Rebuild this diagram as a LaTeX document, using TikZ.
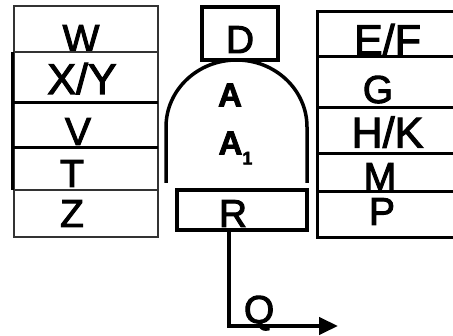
\documentclass[tikz,border=0pt]{standalone}
\usepackage{fontspec}
\setmainfont{Liberation Sans}[FakeBold=2.5]
\usetikzlibrary{arrows.meta,positioning}

\begin{document}
\begin{tikzpicture}[
    x=1pt, y=-1pt,
    font=\fontsize{39}{40}\selectfont,
    >={Triangle[length=19pt,width=17pt]},
    cell/.style={draw=black!80, line width=1.2pt, inner sep=0pt, outer sep=0pt, text height=36pt, text depth=0pt},
    lcell/.style={cell, minimum width=144pt},
    rcell/.style={cell, draw=black, line width=3pt, minimum width=141pt},
    block/.style={cell, draw=black, line width=3.5pt},
    wide/.style={font=\fontsize{43}{45}\selectfont},
    heavy/.style={line width=3.5pt},
    flow/.style={->, line width=4.5pt}
]
\clip (0,0) rectangle (453,336);

% left stack (kerns pull the letters a little left of centre)
\node[lcell, minimum height=46pt, text height=46pt] (w) at (86,29) {W\kern10pt};
\node[lcell, wide, minimum height=51pt, text height=33pt, below=0pt of w] (xy) {X/Y\kern8pt};
\node[lcell, minimum height=45pt, text height=39pt, below=0pt of xy] (v) {V\kern16pt};
\node[lcell, minimum height=42pt, below=0pt of v] (t) {T\kern28pt};
\node[lcell, minimum height=47pt, text height=27pt, below=0pt of t] (z) {Z\kern28pt};
\draw[heavy] ([xshift=-1.5pt]xy.north west) -- ([xshift=-1.5pt]t.south west);
\draw[line width=3pt] (xy.south west) -- (xy.south east);
\draw[line width=3pt] (v.south west) -- (v.south east);

% right stack
\node[rcell, wide, minimum height=45pt, text height=41pt] (ef) at (387.5,34.5) {E/F};
\node[rcell, minimum height=51pt, text height=41pt, below=0pt of ef] (g) {G\kern19pt};
\node[rcell, wide, minimum height=46pt, text height=33pt, below=0pt of g] (hk) {H/K};
\node[rcell, minimum height=38pt, text height=34pt, below=0pt of hk] (m) {M\kern15pt};
\node[rcell, minimum height=46pt, text height=20pt, below=0pt of m] (p) {P\kern11pt};

% centre
\node[block, minimum width=76pt, minimum height=53pt, text height=39pt] (d) at (240,33.5) {D};
\node[block, minimum width=130pt, minimum height=40pt, text height=34pt] (r) at (242,210) {R\kern18pt};
\coordinate (archL) at (166,183);
\coordinate (archR) at (307,183);
\draw[heavy] (archL) -- (166,127) arc[start angle=180, end angle=0, x radius=70.5pt, y radius=67pt] -- (archR);
\node[font=\fontsize{33}{34}\selectfont\bfseries] (a) at (230,95) {A};
\node[font=\fontsize{33}{34}\selectfont\bfseries] (aone) at (235.5,148) {A\raisebox{-10pt}{\fontsize{18}{18}\selectfont 1}};

% output
\coordinate (qend) at (338,326);
\draw[flow] ([xshift=-13pt]r.south) |- node[pos=0.638, anchor=base, inner sep=0pt, yshift=3pt] (q) {Q} (qend);
\end{tikzpicture}
\end{document}
